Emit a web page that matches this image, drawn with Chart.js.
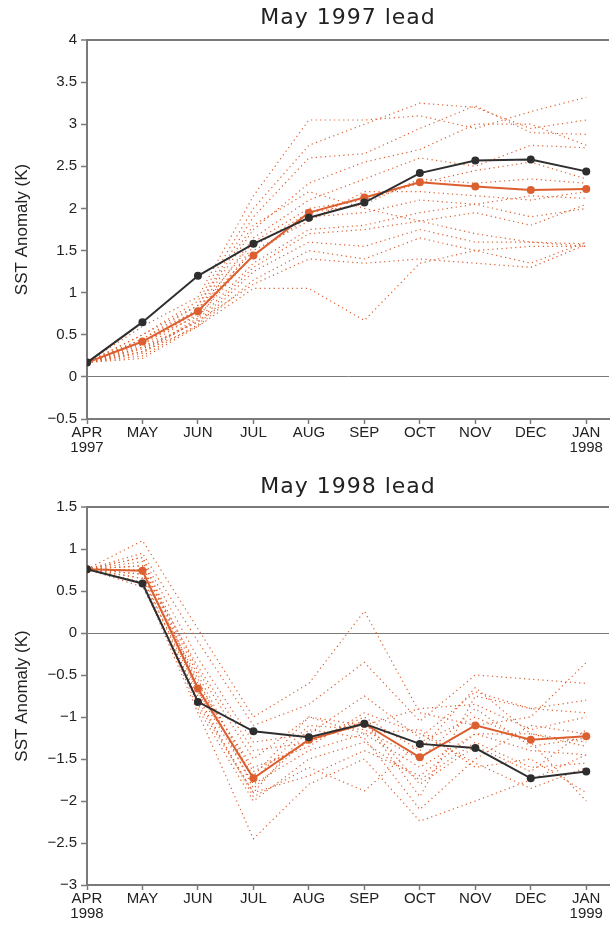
<!DOCTYPE html>
<html>
<head>
<meta charset="utf-8">
<script src="https://cdn.jsdelivr.net/npm/chart.js@4/dist/chart.umd.min.js"></script>
<style>
  html, body { margin: 0; padding: 0; background: #fff; }
  .panel { position: absolute; left: 0; width: 613px; }
  #p1 { top: 0; height: 463px; }
  #p2 { top: 463px; height: 463px; }
</style>
</head>
<body>
<div class="panel" id="p1"><canvas id="c1" width="613" height="463"></canvas></div>
<div class="panel" id="p2"><canvas id="c2" width="613" height="463"></canvas></div>
<script>
// ---- data ----
const months = ['APR','MAY','JUN','JUL','AUG','SEP','OCT','NOV','DEC','JAN'];
const titleTop = 'May 1997 lead';
const titleBottom = 'May 1998 lead';
const yearsTop = ['1997', '1998'];
const yearsBottom = ['1998', '1999'];
const yTitle = 'SST Anomaly (K)';

const observedTop = [0.17, 0.65, 1.20, 1.58, 1.89, 2.07, 2.42, 2.57, 2.58, 2.44];
const meanTop     = [0.17, 0.42, 0.78, 1.44, 1.95, 2.13, 2.31, 2.26, 2.22, 2.23];
const membersTop = [
  [0.17, 0.60, 0.95, 2.15, 3.05, 3.05, 3.10, 2.95, 3.15, 3.32],
  [0.17, 0.50, 0.90, 2.00, 2.75, 3.00, 3.25, 3.20, 2.95, 3.05],
  [0.17, 0.45, 0.85, 1.90, 2.60, 2.65, 2.95, 3.22, 2.90, 2.88],
  [0.17, 0.40, 0.80, 1.75, 2.30, 2.55, 2.70, 3.00, 3.00, 2.75],
  [0.17, 0.35, 0.75, 1.65, 2.10, 2.35, 2.60, 2.50, 2.75, 2.72],
  [0.17, 0.30, 0.70, 1.55, 1.95, 2.05, 2.35, 2.30, 2.35, 2.30],
  [0.17, 0.38, 0.78, 1.50, 1.85, 2.20, 2.20, 2.15, 2.10, 2.20],
  [0.17, 0.42, 0.72, 1.45, 1.90, 1.95, 2.10, 2.05, 2.15, 2.12],
  [0.17, 0.28, 0.68, 1.35, 1.75, 1.80, 1.95, 2.05, 1.90, 2.00],
  [0.17, 0.33, 0.65, 1.30, 1.70, 1.75, 1.85, 1.70, 1.60, 1.58],
  [0.17, 0.25, 0.62, 1.25, 1.60, 1.55, 1.75, 1.60, 1.60, 1.55],
  [0.17, 0.30, 0.60, 1.15, 1.50, 1.40, 1.65, 1.50, 1.35, 1.60],
  [0.17, 0.35, 0.66, 1.10, 1.40, 1.35, 1.40, 1.35, 1.30, 1.57],
  [0.17, 0.22, 0.60, 1.05, 1.05, 0.67, 1.35, 1.50, 1.55, 1.55],
  [0.17, 0.50, 0.85, 1.80, 2.20, 2.00, 1.85, 1.95, 1.80, 2.05],
  [0.17, 0.45, 0.80, 1.60, 2.00, 2.10, 2.30, 2.45, 2.55, 2.35]
];

const observedBottom = [0.76, 0.59, -0.82, -1.17, -1.24, -1.08, -1.32, -1.37, -1.73, -1.65];
const meanBottom     = [0.76, 0.74, -0.66, -1.73, -1.27, -1.08, -1.48, -1.10, -1.27, -1.23];
const membersBottom = [
  [0.76, 1.10,  0.05, -1.00, -0.60,  0.26, -0.95, -1.10, -1.00, -0.35],
  [0.76, 0.95, -0.10, -1.10, -0.85, -0.35, -1.05, -0.50, -0.55, -0.60],
  [0.76, 0.90, -0.30, -1.30, -1.20, -0.75, -1.25, -0.70, -0.90, -0.95],
  [0.76, 0.85, -0.45, -1.50, -1.00, -1.10, -0.90, -0.85, -1.15, -1.00],
  [0.76, 0.80, -0.60, -1.65, -1.30, -1.00, -1.40, -0.65, -1.20, -1.30],
  [0.76, 0.75, -0.70, -1.80, -1.40, -1.20, -1.60, -1.20, -1.40, -1.45],
  [0.76, 0.70, -0.80, -1.90, -1.15, -1.25, -2.10, -1.50, -1.10, -1.20],
  [0.76, 0.65, -0.90, -2.00, -1.50, -1.30, -1.75, -1.30, -1.60, -1.55],
  [0.76, 0.60, -0.95, -2.45, -1.80, -1.50, -2.24, -2.00, -1.75, -1.45],
  [0.76, 0.55, -0.75, -1.95, -1.60, -1.88, -1.30, -1.00, -1.30, -2.00],
  [0.76, 0.70, -0.55, -1.85, -1.25, -1.05, -1.80, -1.35, -1.65, -1.15],
  [0.76, 0.80, -0.50, -1.75, -1.10, -1.15, -1.50, -0.90, -1.35, -1.25],
  [0.76, 0.90, -0.65, -1.60, -1.35, -0.95, -1.20, -1.55, -1.85, -1.60],
  [0.76, 0.60, -0.85, -1.90, -1.70, -1.40, -1.70, -1.20, -1.20, -1.35],
  [0.76, 0.75, -0.40, -1.40, -1.30, -1.05, -1.95, -0.75, -0.90, -0.80],
  [0.76, 0.65, -0.70, -1.70, -1.00, -1.20, -1.15, -1.60, -1.50, -1.90]
];

const yRangeTop = [-0.5, 4];
const yRangeBottom = [-3, 1.5];

// ---- styling ----
const ORANGE = '#dc5f2f';
const BLACK = '#2e2e2e';
const AXIS = '#7a7a7a';
const FONT = "'Liberation Sans', Arial, sans-serif";

function toPoints(arr) { return arr.map((v, i) => ({ x: i, y: v })); }

const titlePlugin = {
  id: 'panelTitle',
  afterDraw(chart, args, opts) {
    const ctx = chart.ctx;
    const ca = chart.chartArea;
    ctx.save();
    ctx.font = "22px 'DejaVu Sans', sans-serif";
    try { ctx.letterSpacing = '1px'; } catch (e) {}
    ctx.fillStyle = '#222';
    ctx.textAlign = 'center';
    ctx.textBaseline = 'middle';
    ctx.fillText(opts.text, (ca.left + ca.right) / 2, ca.top - opts.offset);
    ctx.restore();
  }
};

function makeChart(canvasId, title, titleOffset, observed, mean, members, years, yRange, padTop, xHeight) {
  const datasets = [];
  datasets.push({
    data: toPoints(observed), borderColor: BLACK, backgroundColor: BLACK,
    borderWidth: 2, pointRadius: 4, pointBorderWidth: 0, pointBackgroundColor: BLACK, order: 0
  });
  datasets.push({
    data: toPoints(mean), borderColor: ORANGE, backgroundColor: ORANGE,
    borderWidth: 2, pointRadius: 4, pointBorderWidth: 0, pointBackgroundColor: ORANGE, order: 1
  });
  members.forEach(m => datasets.push({
    data: toPoints(m), borderColor: ORANGE, borderWidth: 1.2, borderDash: [1.2, 3.4],
    pointRadius: 0, order: 2
  }));

  const yMin = yRange[0], yMax = yRange[1];
  return new Chart(document.getElementById(canvasId), {
    type: 'line',
    data: { datasets },
    plugins: [titlePlugin],
    options: {
      responsive: false,
      animation: false,
      devicePixelRatio: 1,
      layout: { padding: { top: padTop, right: 0, left: 0, bottom: 0 } },
      plugins: {
        legend: { display: false },
        tooltip: { enabled: false },
        panelTitle: { text: title, offset: titleOffset }
      },
      scales: {
        x: {
          type: 'linear',
          min: 0,
          max: 9.41,
          afterBuildTicks: s => { s.ticks = months.map((_, i) => ({ value: i })); },
          afterFit: s => { s.height = xHeight; },
          ticks: {
            autoSkip: false,
            maxRotation: 0,
            padding: 1,
            color: '#222',
            font: { family: FONT, size: 15, lineHeight: 1.0 },
            callback: v => {
              if (v === 0) return [months[0], years[0]];
              if (v === months.length - 1) return [months[v], years[1]];
              return months[v];
            }
          },
          grid: { drawOnChartArea: false, tickLength: 5, tickColor: AXIS, tickWidth: 1.5 },
          border: { color: AXIS, width: 2 }
        },
        y: {
          min: yMin,
          max: yMax,
          afterFit: s => { s.width = 87; },
          ticks: {
            stepSize: 0.5,
            padding: 4,
            color: '#222',
            font: { family: FONT, size: 15 },
            callback: v => {
              const s = String(Math.round(v * 10) / 10);
              return s.replace('-', '\u2212');
            }
          },
          grid: {
            tickLength: 6,
            tickColor: AXIS,
            tickWidth: 1.5,
            color: c => (c.tick && (c.tick.value === 0 || c.tick.value === yMax)) ? AXIS : 'rgba(0,0,0,0)',
            lineWidth: c => (c.tick && c.tick.value === yMax) ? 2 : 1
          },
          border: { color: AXIS, width: 2 },
          title: {
            display: true,
            text: yTitle,
            color: '#222',
            font: { family: FONT, size: 17 },
            padding: { top: 12, bottom: 0 }
          }
        }
      }
    }
  });
}

makeChart('c1', titleTop, 22, observedTop, meanTop, membersTop, yearsTop, yRangeTop, 40, 44);
makeChart('c2', titleBottom, 20, observedBottom, meanBottom, membersBottom, yearsBottom, yRangeBottom, 44, 41);
</script>
</body>
</html>
